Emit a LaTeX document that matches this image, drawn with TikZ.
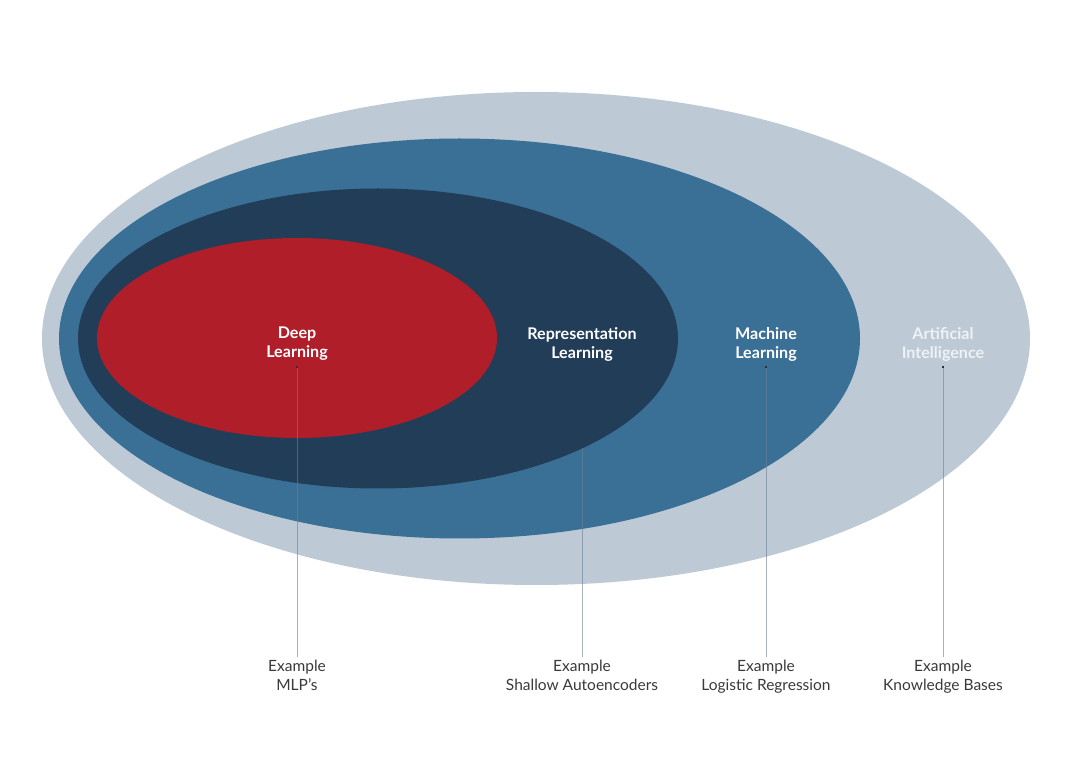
\documentclass[tikz,border=0pt]{standalone}
\usepackage{fontspec}
\setmainfont{Lato}
\usetikzlibrary{shapes.geometric}
\definecolor{ailight}{HTML}{BDCAD5}
\definecolor{mlblue}{HTML}{3A6F96}
\definecolor{rlnavy}{HTML}{213D57}
\definecolor{dlred}{HTML}{B01F29}
\definecolor{aitext}{HTML}{EEF1F6}
\definecolor{linegray}{HTML}{6D7F91}
\definecolor{dotcol}{HTML}{3A2A3A}
\definecolor{extext}{HTML}{3A3A3A}
\begin{document}
\begin{tikzpicture}[x=1pt,y=-1pt,
  blob/.style={ellipse, inner sep=0pt, outer sep=0pt, draw=none},
  lbl/.style={anchor=north, inner sep=0pt, align=center, font=\fontsize{16.1}{19}\selectfont\bfseries},
  exlbl/.style={anchor=north, inner sep=0pt, align=center, text=extext, font=\fontsize{15.5}{19}\selectfont},
  conn/.style={draw=linegray, draw opacity=0.6, line width=0.8pt, shorten >=3pt},
  dotmark/.style={fill=dotcol, minimum size=2.5pt, inner sep=0pt, shape=rectangle}
]
\useasboundingbox (0,0) rectangle (1072,775);
\fill[white] (0,0) rectangle (1072,775);

\node[blob, fill=ailight, minimum width=988pt, minimum height=493pt] (ai) at (536,338.5) {};
\node[blob, fill=mlblue, minimum width=801pt, minimum height=400pt] (ml) at (459.5,338.5) {};
\node[blob, fill=rlnavy, minimum width=600pt, minimum height=300pt] (rl) at (378,338.5) {};
\node[blob, fill=dlred, minimum width=400pt, minimum height=200pt] (dl) at (297,338) {};

\node[lbl, text=white] (dllbl) at (297,327) {Deep\\Learning};
\node[lbl, text=white] (rllbl) at (582,327) {Representation\\Learning};
\node[lbl, text=white] (mllbl) at (766,327) {Machine\\Learning};
\node[lbl, text=aitext] (ailbl) at (943,327) {Artificial\\Intelligence};

\node[exlbl] (dlex) at (297,660) {Example\\MLP’s};
\node[exlbl] (rlex) at (582,660) {Example\\Shallow Autoencoders};
\node[exlbl] (mlex) at (766,660) {Example\\Logistic Regression};
\node[exlbl] (aiex) at (943,660) {Example\\Knowledge Bases};

\coordinate (dltop) at (297,367);
\coordinate (rltop) at (582,448.5);
\coordinate (mltop) at (766,367);
\coordinate (aitop) at (943,367);

\draw[conn] (dltop) -- (dlex.north);
\draw[conn] (rltop) -- (rlex.north);
\draw[conn] (mltop) -- (mlex.north);
\draw[conn] (aitop) -- (aiex.north);

\node[dotmark] (dldot) at (dltop) {};
\node[dotmark] (mldot) at (mltop) {};
\node[dotmark] (aidot) at (aitop) {};
\end{tikzpicture}
\end{document}
